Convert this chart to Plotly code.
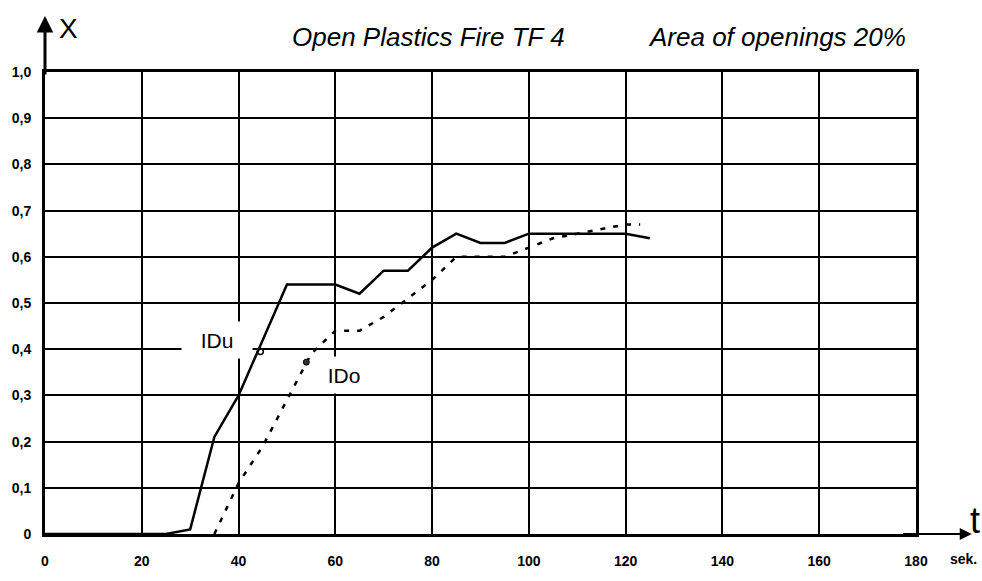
import plotly.graph_objects as go

# Data
t_du = [0, 25, 30, 35, 40, 45, 50, 55, 60, 65, 70, 75, 80, 85, 90, 95, 100, 105, 110, 115, 120, 125]
x_du = [0, 0, 0.01, 0.21, 0.30, 0.42, 0.54, 0.54, 0.54, 0.52, 0.57, 0.57, 0.62, 0.65, 0.63, 0.63,
        0.65, 0.65, 0.65, 0.65, 0.65, 0.64]

t_do = [35, 40, 45, 50, 55, 60, 65, 70, 75, 80, 85, 90, 95, 100, 105, 110, 115, 120, 123]
x_do = [0, 0.11, 0.19, 0.29, 0.39, 0.44, 0.44, 0.47, 0.51, 0.55, 0.60, 0.60, 0.60, 0.62, 0.64,
        0.65, 0.66, 0.67, 0.67]

x_ticks = [0, 20, 40, 60, 80, 100, 120, 140, 160, 180]
y_ticks = [0, 0.1, 0.2, 0.3, 0.4, 0.5, 0.6, 0.7, 0.8, 0.9, 1.0]
y_ticktext = ["0", "0,1", "0,2", "0,3", "0,4", "0,5", "0,6", "0,7", "0,8", "0,9", "1,0"]

# points marked next to the curve labels
du_mark = (44.5, 0.395)
do_mark = (54, 0.372)

fig = go.Figure()

fig.add_trace(go.Scatter(
    x=t_du, y=x_du, mode="lines", name="IDu",
    line=dict(color="black", width=2.5)
))
fig.add_trace(go.Scatter(
    x=t_do, y=x_do, mode="lines", name="IDo",
    line=dict(color="black", width=2.5, dash="5px,8px")
))
fig.add_trace(go.Scatter(
    x=[du_mark[0]], y=[du_mark[1]], mode="markers",
    marker=dict(symbol="circle-open", size=6, color="black", line=dict(width=1.5))
))
fig.add_trace(go.Scatter(
    x=[do_mark[0]], y=[do_mark[1]], mode="markers",
    marker=dict(symbol="circle", size=6, color="#333", line=dict(width=1, color="black"))
))

sans = "Liberation Sans, Arial"
label_font = dict(family=sans, size=21, color="black")
title_font = dict(family=sans, size=26, color="black", style="italic")

annotations = [
    # curve labels, white box hides the grid behind them
    dict(x=35.6, y=0.419, xref="x", yref="y", text="IDu", showarrow=False,
         font=label_font, bgcolor="white", width=68, height=34),
    dict(x=61.8, y=0.345, xref="x", yref="y", text="IDo", showarrow=False,
         font=label_font, bgcolor="white", width=50, height=34),
    # titles
    dict(x=0.2815, y=1.076, xref="paper", yref="paper", text="Open Plastics Fire TF 4",
         xanchor="left", yanchor="middle", showarrow=False, font=title_font),
    dict(x=0.991, y=1.076, xref="paper", yref="paper", text="Area of openings 20%",
         xanchor="right", yanchor="middle", showarrow=False, font=title_font),
    # axis arrows
    dict(x=0, y=1.121, xref="x", yref="paper", ax=0, ay=60, text="", showarrow=True,
         arrowhead=2, arrowsize=1.1, arrowwidth=3, arrowcolor="black"),
    dict(x=1.064, y=0, xref="paper", yref="y", ax=-70, ay=0, text="", showarrow=True,
         arrowhead=2, arrowsize=1.2, arrowwidth=2, arrowcolor="black"),
    # axis names
    dict(x=0.0275, y=1.095, xref="paper", yref="paper", text="X", showarrow=False,
         xanchor="center", yanchor="middle", font=dict(family=sans, size=28, color="black")),
    dict(x=1.0675, y=0.03, xref="paper", yref="paper", text="t", showarrow=False,
         xanchor="center", yanchor="middle", font=dict(family=sans, size=36, color="black")),
    dict(x=1.055, y=-0.055, xref="paper", yref="paper", text="sek.", showarrow=False,
         xanchor="center", yanchor="middle",
         font=dict(family=sans, size=14, color="black", weight="bold")),
]

fig.update_layout(
    width=982, height=581,
    margin=dict(l=42, r=66, t=72, b=36),
    paper_bgcolor="white", plot_bgcolor="white",
    showlegend=False,
    annotations=annotations,
)

fig.update_xaxes(
    range=[0, 180], tickvals=x_ticks, ticktext=[str(v) for v in x_ticks],
    showgrid=True, gridcolor="black", gridwidth=1.6, zeroline=False,
    showline=True, linecolor="black", linewidth=3, mirror=True,
    ticks="", ticklabelstandoff=12,
    tickfont=dict(family=sans, size=14, color="black", weight="bold"),
)
fig.update_yaxes(
    range=[0, 1], tickvals=y_ticks, ticktext=y_ticktext,
    showgrid=True, gridcolor="black", gridwidth=1.6, zeroline=False,
    showline=True, linecolor="black", linewidth=3, mirror=True,
    ticks="", ticklabelstandoff=8,
    tickfont=dict(family=sans, size=14, color="black", weight="bold"),
)

# drop the default body margin so the figure fills the window exactly
fig.write_html("out.html", config={"displayModeBar": False},
               post_script="document.body.style.margin='0';document.body.style.overflow='hidden';")
